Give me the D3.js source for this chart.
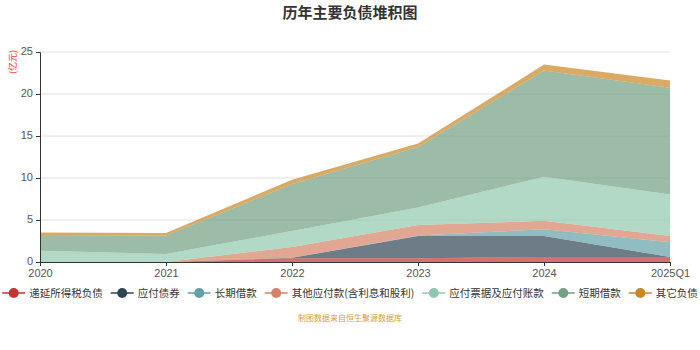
<!DOCTYPE html>
<html lang="zh">
<head>
    <meta charset="UTF-8">
    <title>历年主要负债堆积图</title>
    <style>
        body {
            margin: 0;
            background: #fff;
            font-family: "Noto Sans CJK SC", "Noto Sans", sans-serif;
        }
        .grid line {
            stroke: #e0e0e0;
            stroke-width: 1px;
        }
        .axis text {
            font-size: 11px;
            fill: #555;
        }
    </style>
</head>
<body>
    <svg width="700" height="350"></svg>
    <script src="https://d3js.org/d3.v7.min.js"></script>
    <script>
        const years = ["2020", "2021", "2022", "2023", "2024", "2025Q1"];
        const seriesNames = ["递延所得税负债", "应付债券", "长期借款", "其他应付款(含利息和股利)", "应付票据及应付账款", "短期借款", "其它负债"];
        const colors = ["#c23531", "#2f4554", "#61a0a8", "#d48265", "#91c7ae", "#749f83", "#ca8622"];
        // 单位: 亿元
        const deferredTax = [0, 0, 0.45, 0.45, 0.6, 0.6];
        const bonds = [0, 0, 0.05, 2.65, 2.5, 0];
        const longLoans = [0, 0, 0, 0.05, 0.8, 1.75];
        const otherPayables = [0, 0, 1.3, 1.25, 1.0, 0.75];
        const notesPayable = [1.35, 0.95, 1.9, 2.1, 5.25, 4.95];
        const shortLoans = [1.85, 2.2, 5.6, 7.2, 12.65, 12.7];
        const otherLiab = [0.3, 0.3, 0.5, 0.4, 0.7, 0.85];
        const yTicks = [0, 5, 10, 15, 20, 25];

        const allSeries = [deferredTax, bonds, longLoans, otherPayables, notesPayable, shortLoans, otherLiab];
        const rows = years.map((yr, i) => {
            const r = { year: yr };
            seriesNames.forEach((n, k) => r[n] = allSeries[k][i]);
            return r;
        });

        const svg = d3.select("svg");
        const plotLeft = 40, plotRight = 670, plotTop = 52, plotBottom = 262;

        const x = d3.scalePoint().domain(years).range([plotLeft, plotRight]).padding(0);
        const y = d3.scaleLinear().domain([0, 25]).range([plotBottom, plotTop]);

        // title
        svg.append("text")
            .attr("x", 350).attr("y", 18)
            .attr("text-anchor", "middle")
            .style("font-size", "15px").style("font-weight", "bold").style("fill", "#333")
            .text("历年主要负债堆积图");

        // unit label
        svg.append("text")
            .attr("transform", "translate(16,62) rotate(-90)")
            .attr("text-anchor", "middle")
            .style("font-size", "9px").style("fill", "#f33")
            .text("(亿元)");

        // grid
        svg.append("g").attr("class", "grid")
            .selectAll("line").data(yTicks.slice(1)).enter().append("line")
            .attr("x1", plotLeft).attr("x2", plotRight)
            .attr("y1", d => y(d)).attr("y2", d => y(d));

        const stack = d3.stack().keys(seriesNames);
        const layers = stack(rows);
        const area = d3.area()
            .x(d => x(d.data.year))
            .y0(d => y(d[0]))
            .y1(d => y(d[1]));

        svg.append("g").selectAll("path").data(layers).enter().append("path")
            .attr("d", area)
            .attr("fill", (d, i) => colors[i])
            .attr("fill-opacity", 0.7);

        // axes
        const yAxis = svg.append("g").attr("class", "axis")
            .attr("transform", `translate(${plotLeft},0)`)
            .call(d3.axisLeft(y).tickValues(yTicks).tickSize(4).tickPadding(3));
        yAxis.select(".domain").attr("stroke", "#333");
        yAxis.selectAll(".tick line").attr("stroke", "#333");
        yAxis.selectAll(".tick text").attr("dy", "0.25em");

        const xAxis = svg.append("g").attr("class", "axis")
            .attr("transform", `translate(0,${plotBottom})`)
            .call(d3.axisBottom(x).tickSize(4).tickPadding(3));
        xAxis.select(".domain").attr("stroke", "#333");
        xAxis.selectAll(".tick line").attr("stroke", "#333");

        // legend
        const legend = svg.append("g");
        let lx = 0;
        seriesNames.forEach((n, i) => {
            const g = legend.append("g").attr("transform", `translate(${lx},0)`);
            g.append("line").attr("x1", 0).attr("x2", 23).attr("y1", 0).attr("y2", 0)
                .attr("stroke", colors[i]).attr("stroke-width", 1.5);
            g.append("circle").attr("cx", 11.5).attr("cy", 0).attr("r", 5).attr("fill", colors[i]);
            const t = g.append("text").attr("x", 27).attr("y", 4)
                .style("font-size", "10.5px").style("fill", "#333").text(n);
            lx += 27 + t.node().getComputedTextLength() + 8;
        });
        lx -= 8;
        legend.attr("transform", `translate(${(700 - lx) / 2},293)`);

        // source
        svg.append("text")
            .attr("x", 350).attr("y", 321)
            .attr("text-anchor", "middle")
            .style("font-size", "8px").style("fill", "#d4a040")
            .text("制图数据来自恒生聚源数据库");
    </script>
</body>
</html>
